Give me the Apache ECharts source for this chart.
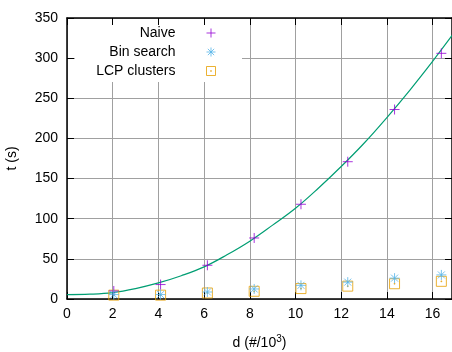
<!DOCTYPE html>
<html>
<head>
<meta charset="utf-8">
<script src="https://cdn.jsdelivr.net/npm/echarts@6/dist/echarts.min.js"></script>
<style>
  html, body { margin: 0; padding: 0; background: #fff; }
  #main { width: 452px; height: 352px; }
</style>
</head>
<body>
<div id="main"></div>
<script>
// x positions (#/10^3)
const sizes = [2.048, 4.096, 6.144, 8.192, 10.24, 12.288, 14.336, 16.384];
const naive = [10, 18, 42, 76, 118, 171, 236, 306];
const binSearch = [5.5, 5.5, 8.7, 12.5, 17, 21, 26, 30];
const lcpClusters = [4.8, 4.8, 7.5, 9.6, 13, 16, 19, 22];
// fitted curve
const fitX = [0, 1, 2, 3, 4, 5, 6, 7, 8, 9, 10, 11, 12, 13, 14, 15, 16, 16.9];
const fitY = [5.5, 6, 8, 13, 20, 29, 40, 55, 72, 92, 113, 138, 165, 194, 226, 260, 296, 330];
const xTicks = [0, 2, 4, 6, 8, 10, 12, 14, 16];
const yTicks = [0, 50, 100, 150, 200, 250, 300, 350];

const font = 'Liberation Sans';
const plusPath = 'path://M0,5H10M5,0V10';
const starPath = 'path://M0,5H10M5,0V10M1.5,1.5L8.5,8.5M8.5,1.5L1.5,8.5';
const boxPath = 'path://M0,0H10V10H0ZM4.6,4.6H5.4V5.4H4.6Z';

const pair = (xs, ys) => xs.map((x, i) => [x, ys[i]]);

const myChart = echarts.init(document.getElementById('main'));

const axisCommon = {
  type: 'value',
  axisLine: { show: true, onZero: false, lineStyle: { color: '#000', width: 1.5 } },
  axisTick: { show: true, inside: true, length: 7, lineStyle: { color: '#000', width: 1 } },
};

function legendFor(name, symbol, color, top) {
  return {
    data: [{ name: name, icon: symbol }],
    right: 452 - 216,
    top: top,
    align: 'right',
    itemWidth: 9,
    itemHeight: 9,
    itemGap: 0,
    padding: 0,
    selectedMode: false,
    textStyle: { fontFamily: font, fontSize: 14, color: '#000', padding: [0, 26, 0, 0] },
    itemStyle: { color: 'transparent', borderColor: color, borderWidth: 1 },
  };
}

const option = {
  animation: false,
  grid: { left: 67, right: 0, top: 18, bottom: 53, containLabel: false, outerBoundsMode: 'none' },
  graphic: [{
    type: 'rect',
    z: 1,
    shape: { x: 75, y: 25, width: 167, height: 57 },
    style: { fill: '#fff' },
  }],
  legend: [
    legendFor('Naive', plusPath, '#9400d3', 26),
    legendFor('Bin search', starPath, '#56b4e9', 45),
    legendFor('LCP clusters', boxPath, '#e69f00', 64),
  ],
  xAxis: [
    {
      ...axisCommon,
      min: 0, max: 16.85, interval: 2,
      name: 'd (#/10{sup|3})',
      nameLocation: 'middle',
      nameGap: 35,
      nameTextStyle: {
        fontFamily: font, fontSize: 14, color: '#000',
        rich: { sup: { fontFamily: font, fontSize: 10, verticalAlign: 'top', padding: [0, 0, 8, 0] } },
      },
      axisLabel: {
        fontFamily: font, fontSize: 14, color: '#000', margin: 8,
        showMaxLabel: false,
        formatter: (v) => (xTicks.includes(v) ? String(v) : ''),
      },
      splitLine: { show: true, lineStyle: { color: '#a0a0a0', width: 1 } },
    },
    {
      ...axisCommon,
      position: 'top',
      min: 0, max: 16.85, interval: 2,
      axisLabel: { show: false },
      splitLine: { show: false },
    },
  ],
  yAxis: [
    {
      ...axisCommon,
      min: 0, max: 350, interval: 50,
      name: 't (s)',
      nameLocation: 'middle',
      nameGap: 48,
      nameTextStyle: { fontFamily: font, fontSize: 14, color: '#000' },
      axisLabel: {
        fontFamily: font, fontSize: 14, color: '#000', margin: 9,
        formatter: (v) => (yTicks.includes(v) ? String(v) : ''),
      },
      splitLine: { show: true, lineStyle: { color: '#a0a0a0', width: 1 } },
    },
    {
      ...axisCommon,
      position: 'right',
      min: 0, max: 350, interval: 50,
      axisLabel: { show: false },
      splitLine: { show: false },
    },
  ],
  series: [
    {
      name: 'fit',
      type: 'line',
      data: pair(fitX, fitY),
      smooth: 0.4,
      showSymbol: false,
      lineStyle: { color: '#009e73', width: 1.2 },
      z: 3,
    },
    {
      name: 'Naive',
      type: 'scatter',
      data: pair(sizes, naive),
      symbol: plusPath,
      symbolSize: 10,
      itemStyle: { color: 'transparent', borderColor: '#9400d3', borderWidth: 1 },
      z: 5,
    },
    {
      name: 'Bin search',
      type: 'scatter',
      data: pair(sizes, binSearch),
      symbol: starPath,
      symbolSize: 10,
      itemStyle: { color: 'transparent', borderColor: '#56b4e9', borderWidth: 1 },
      z: 5,
    },
    {
      name: 'LCP clusters',
      type: 'scatter',
      data: pair(sizes, lcpClusters),
      symbol: boxPath,
      symbolSize: 10,
      itemStyle: { color: 'transparent', borderColor: '#e69f00', borderWidth: 1 },
      z: 4,
    },
  ],
};

option && myChart.setOption(option);
</script>
</body>
</html>
